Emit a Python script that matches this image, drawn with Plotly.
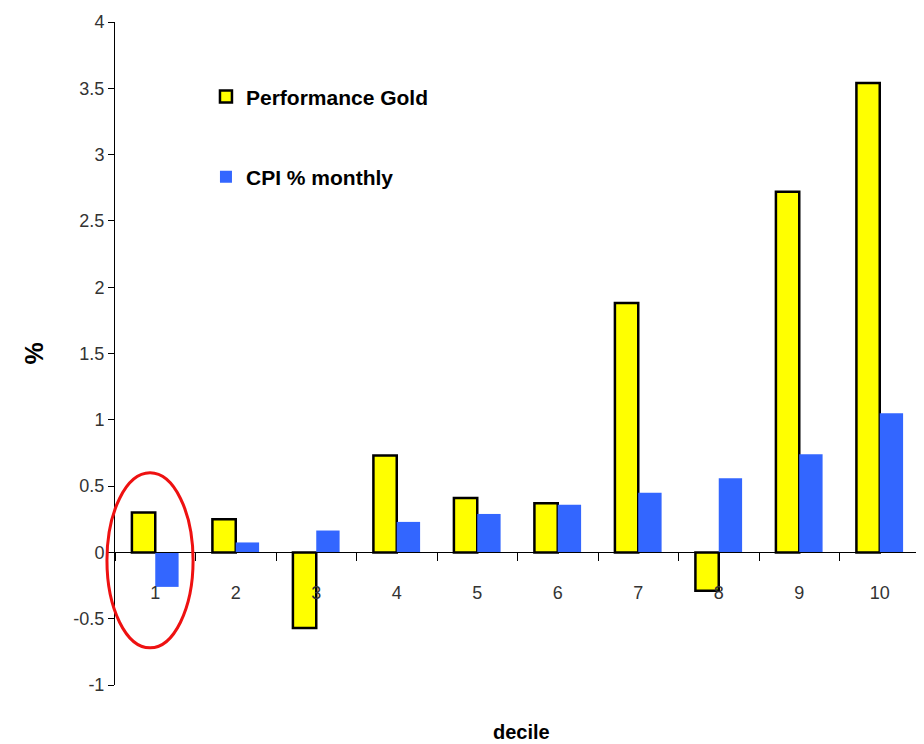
import plotly.graph_objects as go

deciles = ['1', '2', '3', '4', '5', '6', '7', '8', '9', '10']
gold = [0.30, 0.25, -0.57, 0.73, 0.41, 0.37, 1.88, -0.29, 2.72, 3.54]
cpi = [-0.26, 0.075, 0.165, 0.23, 0.29, 0.36, 0.45, 0.56, 0.74, 1.05]
y_ticks = [-1, -0.5, 0, 0.5, 1, 1.5, 2, 2.5, 3, 3.5, 4]

font = 'Arial, Liberation Sans, sans-serif'

fig = go.Figure()
fig.add_trace(go.Bar(x=deciles, y=gold, name='Performance Gold', legendgroup='a',
                     marker=dict(color='#ffff00', line=dict(color='black', width=2.5))))
fig.add_trace(go.Bar(x=deciles, y=cpi, name='CPI % monthly', legendgroup='b',
                     marker=dict(color='#3366ff', line=dict(width=0))))

# red ellipse around decile 1 (x in domain units so it can reach past the y axis)
fig.add_shape(type='circle', xref='x domain', yref='y', x0=-0.01, x1=0.097, y0=-0.72, y1=0.6,
              line=dict(color='#ee1111', width=3))

fig.add_annotation(text='<b>decile</b>', xref='paper', yref='paper', x=0.505, y=-0.071,
                   yanchor='middle', showarrow=False, font=dict(family=font, size=20, color='black'))

# page body adds an 8px margin, so the figure is sized a bit smaller
fig.update_layout(
    width=916, height=736,
    plot_bgcolor='white', paper_bgcolor='white',
    barmode='group', bargap=0.42, bargroupgap=0,
    margin=dict(l=107, r=4, t=14, b=59, pad=0),
    showlegend=True,
    legend=dict(x=0.113, y=0.918, xanchor='left', yanchor='top', traceorder='grouped',
                tracegroupgap=50, bgcolor='rgba(0,0,0,0)',
                font=dict(family=font, size=21, color='black', weight='bold')),
    xaxis=dict(type='category', range=[-0.5, 9.5], autorange=False, automargin=False,
               anchor='free', position=0.2, showline=True, linecolor='black',
               linewidth=1, ticks='outside', tickson='boundaries', ticklen=8, tickcolor='black',
               ticklabelstandoff=24, showgrid=False, zeroline=False,
               tickfont=dict(family=font, size=18, color='#333333')),
    yaxis=dict(range=[-1, 4], autorange=False, automargin=False,
               tickvals=y_ticks, ticktext=[f'{v:g}' for v in y_ticks],
               showline=True, linecolor='black', linewidth=1, ticks='outside', ticklen=6,
               tickcolor='black', showgrid=False, zeroline=False,
               tickfont=dict(family=font, size=18, color='#333333'),
               title=dict(text='<b>%</b>', standoff=22, font=dict(family=font, size=25, color='black'))),
)

fig.write_html("out.html")
